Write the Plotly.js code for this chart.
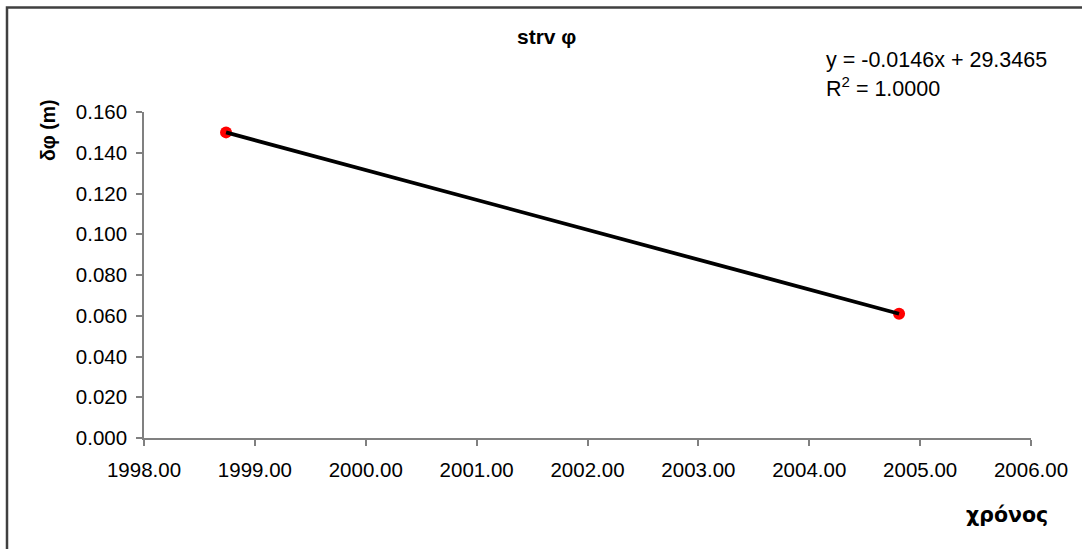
<!DOCTYPE html>
<html>
<head>
<meta charset="utf-8">
<script src="https://cdn.plot.ly/plotly-3.0.1.min.js"></script>
<style>html,body{margin:0;padding:0;background:#fff;}#chart{width:1082px;height:549px;}</style>
</head>
<body>
<div id="chart"></div>
<script>
const years = [1998.74, 2004.81];
const dphi = [0.150, 0.061];
const chartTitle = "strv φ";
const xTitle = "χρόνος";
const yTitle = "δφ (m)";
const trendText = ["y = -0.0146x + 29.3465", "R<sup>2</sup> = 1.0000"];
const xTicks = [1998, 1999, 2000, 2001, 2002, 2003, 2004, 2005, 2006];
const yTicks = [0, 0.02, 0.04, 0.06, 0.08, 0.10, 0.12, 0.14, 0.16];

const font = "Liberation Sans, Arial, sans-serif";
const traces = [
  {x: years, y: dphi, mode: "markers", type: "scatter",
   marker: {color: "#ff0000", size: 12}, showlegend: false, hoverinfo: "x+y"},
  {x: years, y: dphi, mode: "lines", type: "scatter",
   line: {color: "#000000", width: 3.8}, showlegend: false, hoverinfo: "skip"}
];
const layout = {
  width: 1082, height: 549,
  margin: {l: 144, r: 51, t: 112, b: 111},
  paper_bgcolor: "#fff", plot_bgcolor: "#fff",
  font: {family: font, size: 20, color: "#000"},
  xaxis: {range: [1998, 2006], tickvals: xTicks, ticktext: xTicks.map(v => v.toFixed(2)),
    showgrid: false, zeroline: false, showline: true, linecolor: "#808080", linewidth: 1.5,
    ticks: "outside", ticklen: 6, tickcolor: "#808080", tickwidth: 1.5, ticklabelstandoff: 7,
    tickfont: {size: 20.5, family: font, color: "#000"}, fixedrange: true},
  yaxis: {range: [0, 0.16], tickvals: yTicks, ticktext: yTicks.map(v => v.toFixed(3)),
    showgrid: false, zeroline: false, showline: true, linecolor: "#808080", linewidth: 1.5,
    ticks: "outside", ticklen: 6, tickcolor: "#808080", tickwidth: 1.5, ticklabelstandoff: 5,
    tickfont: {size: 20.5, family: font, color: "#000"}, fixedrange: true},
  annotations: [
    {text: "<b>" + chartTitle + "</b>", xref: "paper", yref: "paper", x: 0.4535, y: 1,
     xanchor: "center", yanchor: "middle", yshift: 76, showarrow: false,
     font: {size: 21, family: font}},
    {text: "<b>" + yTitle + "</b>", xref: "paper", yref: "paper", x: 0, y: 1, textangle: -90,
     xanchor: "center", yanchor: "middle", xshift: -96, yshift: -18, showarrow: false,
     font: {size: 19.5, family: font}},
    {text: "<b>" + xTitle + "</b>", xref: "paper", yref: "paper", x: 1, y: 0,
     xanchor: "right", yanchor: "middle", xshift: 19, yshift: -77, showarrow: false,
     font: {size: 20.5, family: "DejaVu Sans, " + font}},
    {text: trendText[0], xref: "paper", yref: "paper", x: 0, y: 1,
     xanchor: "left", yanchor: "middle", xshift: 680, yshift: 52, showarrow: false,
     font: {size: 21.5, family: font}},
    {text: trendText[1], xref: "paper", yref: "paper", x: 0, y: 1,
     xanchor: "left", yanchor: "middle", xshift: 680, yshift: 25, showarrow: false,
     font: {size: 21.5, family: font}}
  ]
};
Plotly.newPlot("chart", traces, layout, {displayModeBar: false}).then(() => {
  // outer frame (top and left edges), drawn in paper pixel space
  const svg = document.querySelector("#chart .main-svg");
  const ns = "http://www.w3.org/2000/svg";
  const p = document.createElementNS(ns, "path");
  p.setAttribute("d", "M7,549 L7,7.5 L1082,7.5");
  p.setAttribute("stroke", "#404040");
  p.setAttribute("stroke-width", "2.5");
  p.setAttribute("fill", "none");
  svg.appendChild(p);
});
</script>
</body>
</html>
